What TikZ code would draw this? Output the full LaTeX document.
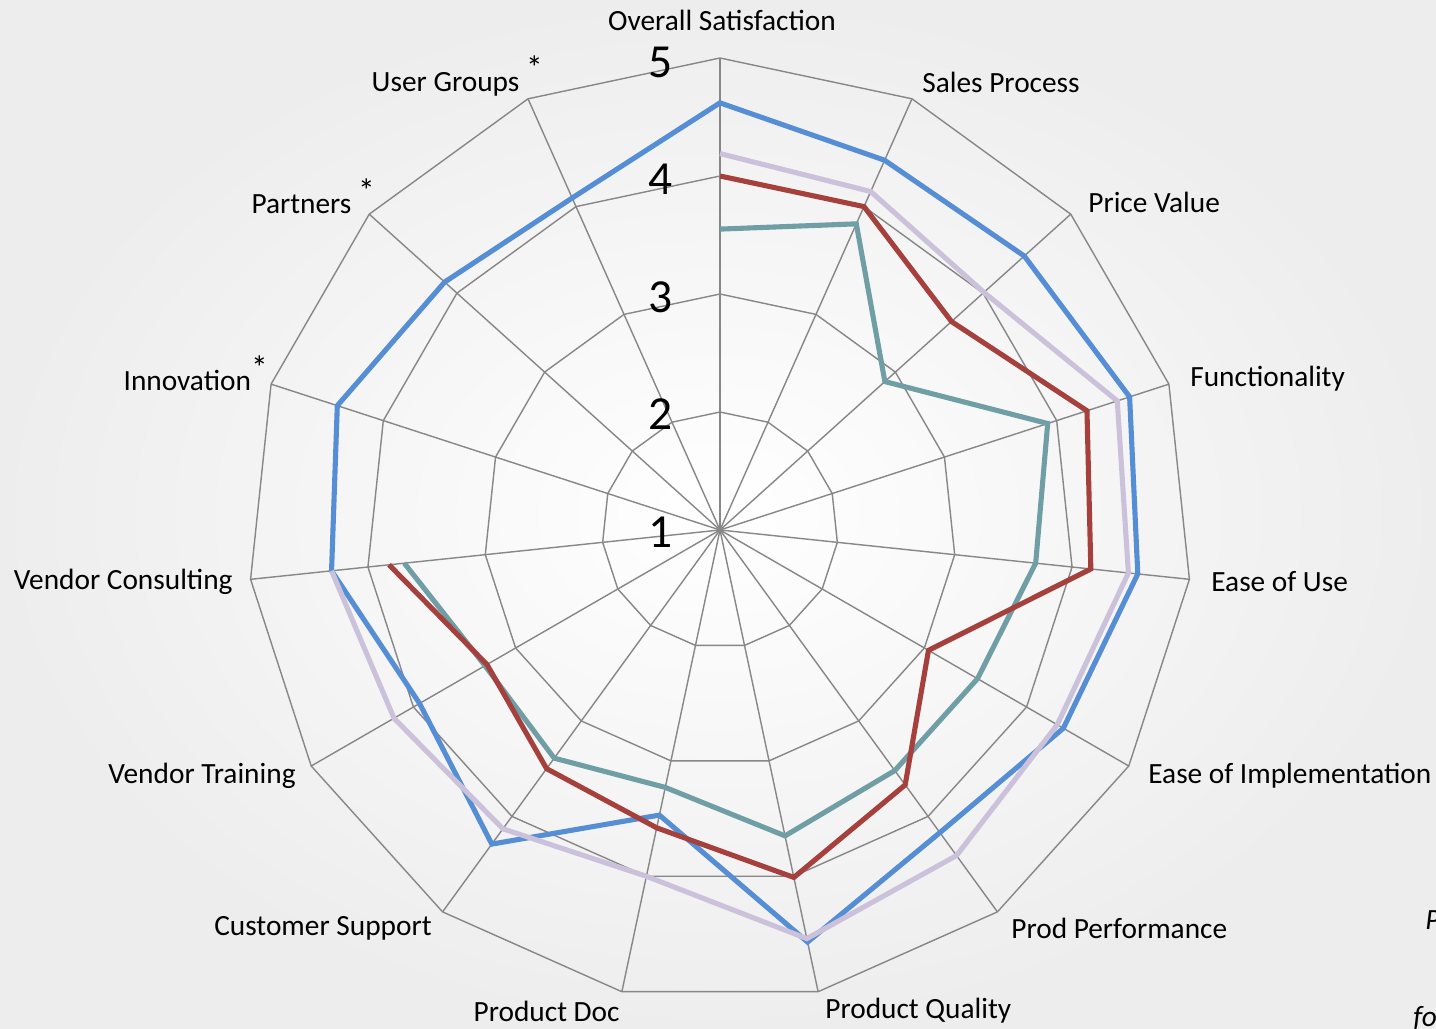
\documentclass[tikz,border=0pt]{standalone}
\usepackage{fontspec}
\setmainfont{Carlito}
\usetikzlibrary{positioning}
\definecolor{gridgray}{RGB}{135,135,135}
\definecolor{serieblue}{RGB}{85,142,213}
\definecolor{serielila}{RGB}{204,193,218}
\definecolor{seriered}{RGB}{165,64,61}
\definecolor{serieteal}{RGB}{112,158,165}
\newcommand{\asterix}{\raisebox{0.38em}{\fontsize{19}{20}\selectfont*}}

\begin{document}
\begin{tikzpicture}
	[x=0.02cm,y=0.02cm,
	grid/.style={draw=gridgray,line width=0.8pt},
	serie/.style={line width=2.9pt},
	axislabel/.style={font=\fontsize{16.7}{20}\selectfont,inner sep=0pt},
	levellabel/.style={font=\fontsize{27}{30}\selectfont,inner sep=0pt}]
	\useasboundingbox (-720,-498) rectangle (716,530);
	\shade[inner color=white,outer color=black!7] (-720,-498) rectangle (716,530);

	%rings and spokes
	\foreach \lv in {2,...,5}
		\draw[grid] (90:{(\lv-1)*118}) \foreach \k in {1,...,14}{ -- ({90-24*\k}:{(\lv-1)*118})} -- cycle;
	\foreach \k in {0,...,14}
		\draw[grid] (0,0) -- ({90-24*\k}:472);

	%series
	\foreach \v [count=\k from 0] in {4.62,4.43,4.47,4.65,4.56,4.36,4.17,4.57,3.47,4.29,3.94,4.31,4.41,4.14,4.08}
		\coordinate (b\k) at ({90-24*\k}:{(\v-1)*118});
	\foreach \v [count=\k from 0] in {3.55,3.84,2.88,3.92,3.69,3.52,3.52,3.65,3.23,3.39,3.30,3.69}
		\coordinate (t\k) at ({90-24*\k}:{(\v-1)*118});
	\foreach \v [count=\k from 0] in {4.0,4.0,3.64,4.27,4.16,3.04,3.67,4.01,3.58,3.5,3.28,3.82}
		\coordinate (r\k) at ({90-24*\k}:{(\v-1)*118});
	\foreach \v [count=\k from 0] in {4.19,4.14,4.01,4.54,4.48,4.30,4.41,4.54,4.0,4.13,4.19,4.31}
		\coordinate (l\k) at ({90-24*\k}:{(\v-1)*118});
	\draw[serie,serieblue] (b0) \foreach \k in {1,...,14}{ -- (b\k)} -- cycle;
	\draw[serie,serieteal] (t0) \foreach \k in {1,...,11}{ -- (t\k)};
	\draw[serie,seriered] (r0) \foreach \k in {1,...,11}{ -- (r\k)};
	\draw[serie,serielila] (l0) \foreach \k in {1,...,11}{ -- (l\k)};

	%level numbers
	\foreach \lv in {1,...,5}
		\node[levellabel] (n\lv) at (-59,{(\lv-1)*117.5-2}) {\lv};

	%axis labels
	\node[axislabel] (overall) at (2,510) {Overall Satisfaction};
	\node[axislabel,anchor=west] (sales) at (202,448) {Sales Process};
	\node[axislabel,anchor=west] (price) at (368,328) {Price Value};
	\node[axislabel,anchor=west] (func) at (470,151) {Functionality};
	\node[axislabel,anchor=west] (easeuse) at (491,-52) {Ease of Use};
	\node[axislabel,anchor=west] (easeimpl) at (428,-246) {Ease of Implementation};
	\node[axislabel,anchor=west] (perf) at (291,-398) {Prod Performance};
	\node[axislabel,anchor=west] (quality) at (105,-481) {Product Quality};
	\node[axislabel,anchor=east] (doc) at (-100,-481) {Product Doc};
	\node[axislabel,anchor=east] (support) at (-288,-398) {Customer Support};
	\node[axislabel,anchor=east] (training) at (-424,-246) {Vendor Training};
	\node[axislabel,anchor=east] (consult) at (-487,-52) {Vendor Consulting};
	\node[axislabel,anchor=east] (innov) at (-452,157) {Innovation\asterix};
	\node[axislabel,anchor=east] (partners) at (-345,334) {Partners \asterix};
	\node[axislabel,anchor=east] (groups) at (-177,454) {User Groups \asterix};

	%cut-off notes at the right edge
	\node[axislabel,anchor=west] (noteP) at (705,-390) {\itshape P};
	\node[axislabel,anchor=west] (notefo) at (693,-488) {\itshape fo};
\end{tikzpicture}
\end{document}
